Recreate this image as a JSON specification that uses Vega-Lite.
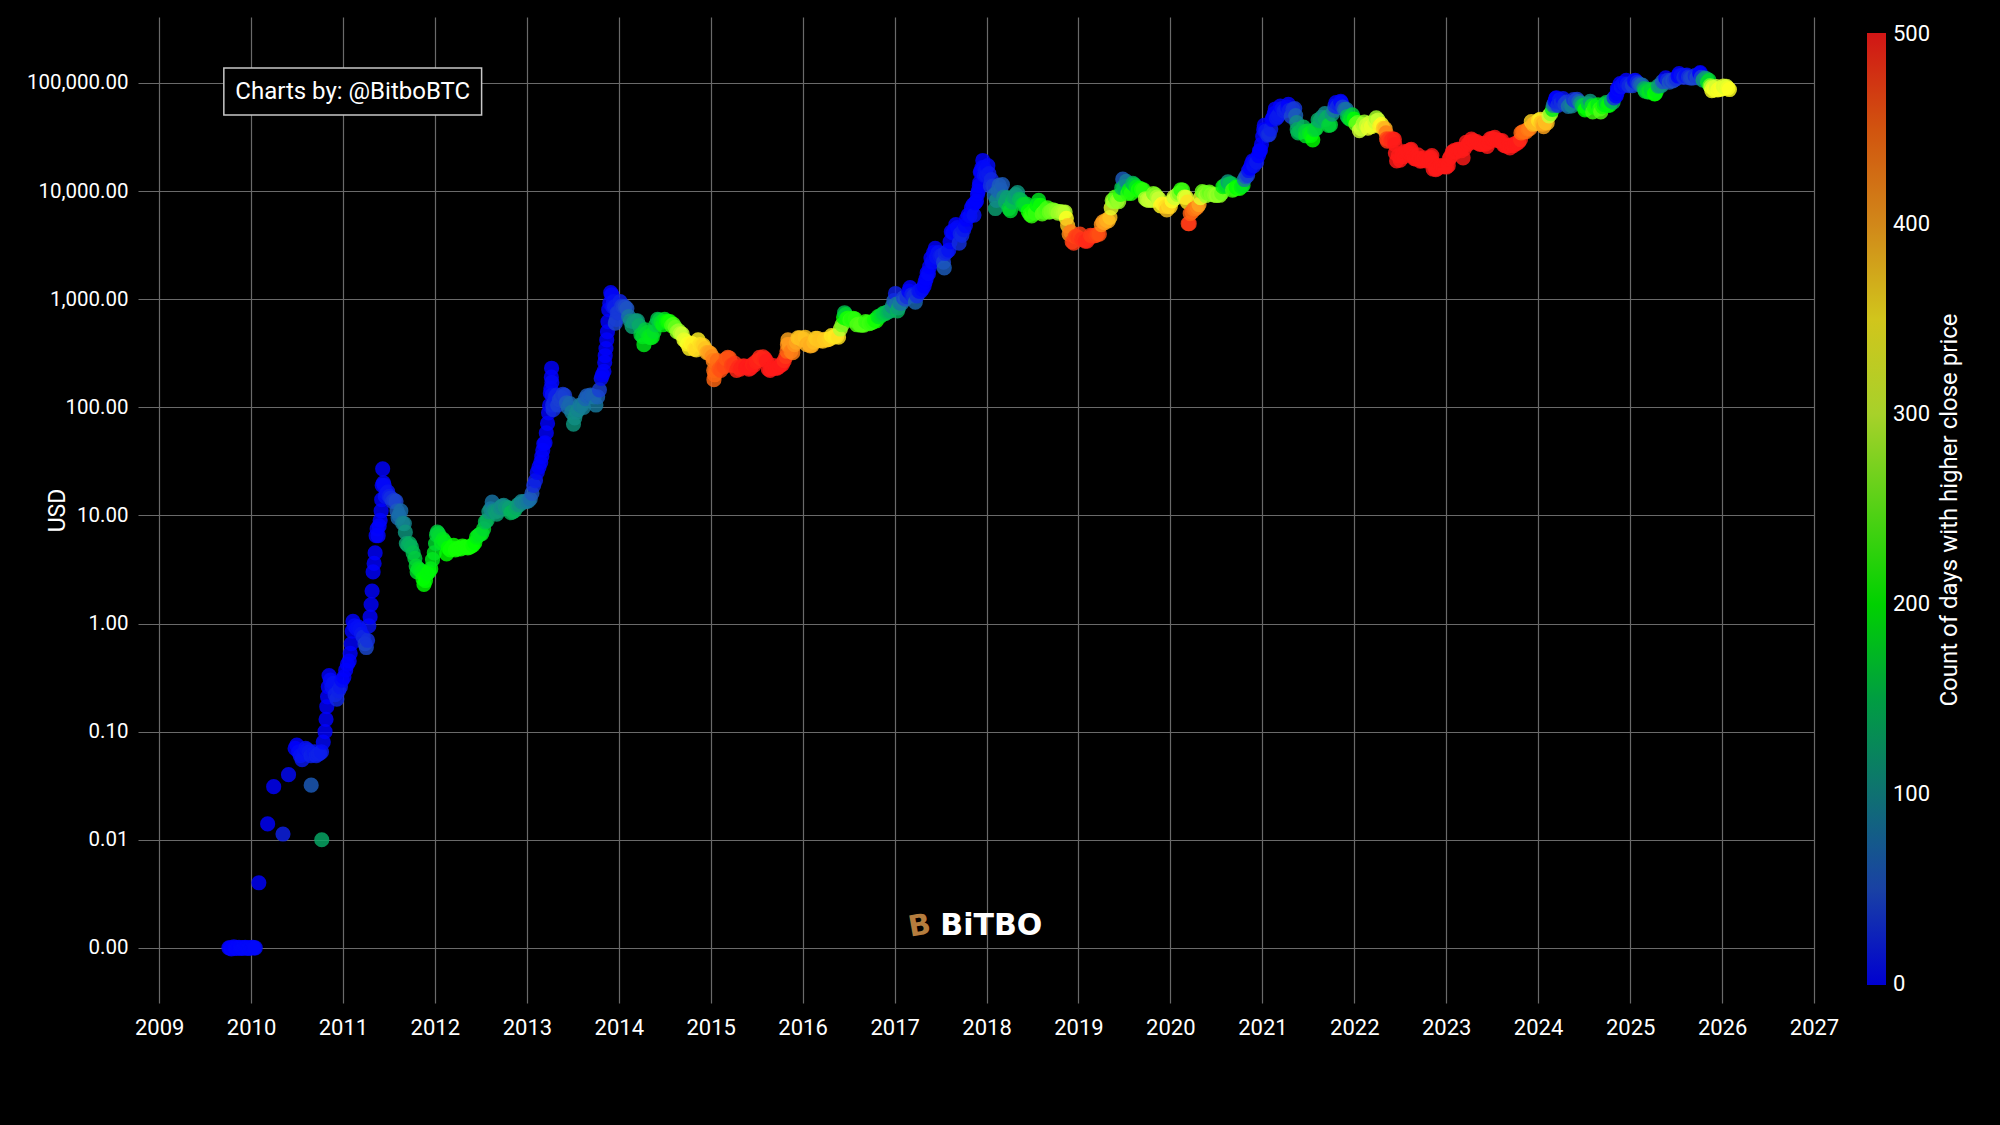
{
  "$schema": "https://vega.github.io/schema/vega-lite/v6.json",
  "width": 1676,
  "height": 986,
  "autosize": {"type": "none"},
  "padding": {"left": 138, "top": 17, "right": 186, "bottom": 122},
  "background": "#000000",
  "title": {"text": "Count of days with higher close price", "orient": "right", "frame": "group", "anchor": "middle", "angle": 270, "offset": -5, "fontSize": 24, "color": "#ffffff", "fontWeight": "normal", "font": "Roboto", "baseline": "middle"},
  "config": {
    "font": "Roboto",
    "view": {"stroke": null},
    "axis": {"gridColor": "#6a6a6a", "gridWidth": 1.2, "domain": false, "ticks": false, "labelColor": "#ffffff", "titleColor": "#ffffff"}
  },
  "datasets": {
    "btc": [
      {"d":"2009-10-05","p":0.001,"c":0},{"d":"2009-10-10","p":0.001,"c":0},{"d":"2009-10-15","p":0.00098,"c":2},{"d":"2009-10-20","p":0.001,"c":0},{"d":"2009-10-25","p":0.00102,"c":0},{"d":"2009-10-30","p":0.001,"c":2},{"d":"2009-11-04","p":0.00099,"c":3},{"d":"2009-11-09","p":0.001,"c":3},{"d":"2009-11-14","p":0.00101,"c":2},{"d":"2009-11-19","p":0.001,"c":3},{"d":"2009-11-24","p":0.00099,"c":4},{"d":"2009-11-29","p":0.001,"c":4},{"d":"2009-12-04","p":0.001,"c":4},{"d":"2009-12-09","p":0.00101,"c":3},{"d":"2009-12-14","p":0.001,"c":4},{"d":"2009-12-19","p":0.00099,"c":5},{"d":"2009-12-24","p":0.001,"c":5},{"d":"2009-12-29","p":0.001,"c":5},{"d":"2010-01-03","p":0.001,"c":5},{"d":"2010-01-08","p":0.00101,"c":4},{"d":"2010-01-13","p":0.001,"c":5},{"d":"2010-01-18","p":0.001,"c":5},
      {"d":"2010-02-01","p":0.004,"c":0},{"d":"2010-03-08","p":0.014,"c":0},{"d":"2010-04-01","p":0.031,"c":0},{"d":"2010-05-08","p":0.0113,"c":20},{"d":"2010-05-30","p":0.04,"c":5},
      {"d":"2010-06-25","p":0.07,"c":0},{"d":"2010-07-02","p":0.075,"c":0},{"d":"2010-07-09","p":0.065,"c":5},{"d":"2010-07-16","p":0.06,"c":10},{"d":"2010-07-23","p":0.055,"c":15},{"d":"2010-07-30","p":0.062,"c":12},{"d":"2010-08-06","p":0.07,"c":10},{"d":"2010-08-13","p":0.068,"c":12},{"d":"2010-08-20","p":0.065,"c":15},{"d":"2010-08-27","p":0.06,"c":20},{"d":"2010-08-28","p":0.032,"c":60},{"d":"2010-09-03","p":0.062,"c":18},{"d":"2010-09-10","p":0.065,"c":15},{"d":"2010-09-17","p":0.06,"c":20},{"d":"2010-09-24","p":0.062,"c":20},{"d":"2010-10-01","p":0.063,"c":20},{"d":"2010-10-08","p":0.065,"c":18},{"d":"2010-10-09","p":0.01,"c":130},{"d":"2010-10-15","p":0.08,"c":5},{"d":"2010-10-22","p":0.1,"c":0},{"d":"2010-10-26","p":0.13,"c":0},{"d":"2010-10-29","p":0.17,"c":0},{"d":"2010-11-01","p":0.21,"c":0},{"d":"2010-11-04","p":0.26,"c":0},{"d":"2010-11-07","p":0.33,"c":0},{"d":"2010-11-12","p":0.3,"c":5},{"d":"2010-11-18","p":0.26,"c":10},{"d":"2010-11-24","p":0.28,"c":10},{"d":"2010-12-01","p":0.22,"c":20},{"d":"2010-12-08","p":0.2,"c":25},{"d":"2010-12-15","p":0.24,"c":20},{"d":"2010-12-22","p":0.26,"c":15},{"d":"2010-12-29","p":0.3,"c":5},
      {"d":"2011-01-05","p":0.32,"c":0},{"d":"2011-01-12","p":0.37,"c":0},{"d":"2011-01-19","p":0.42,"c":0},{"d":"2011-01-26","p":0.45,"c":0},{"d":"2011-01-30","p":0.53,"c":0},{"d":"2011-02-03","p":0.65,"c":0},{"d":"2011-02-07","p":0.85,"c":0},{"d":"2011-02-10","p":1.05,"c":0},{"d":"2011-02-16","p":0.95,"c":5},{"d":"2011-02-23","p":0.9,"c":8},{"d":"2011-03-02","p":0.93,"c":8},{"d":"2011-03-09","p":0.88,"c":10},{"d":"2011-03-16","p":0.8,"c":15},{"d":"2011-03-23","p":0.75,"c":25},{"d":"2011-03-30","p":0.65,"c":40},{"d":"2011-04-04","p":0.6,"c":45},{"d":"2011-04-09","p":0.7,"c":30},{"d":"2011-04-14","p":0.95,"c":10},{"d":"2011-04-19","p":1.15,"c":0},{"d":"2011-04-23","p":1.5,"c":0},{"d":"2011-04-27","p":2.0,"c":0},{"d":"2011-05-01","p":3.0,"c":0},{"d":"2011-05-05","p":3.6,"c":0},{"d":"2011-05-09","p":4.5,"c":0},{"d":"2011-05-13","p":6.5,"c":0},{"d":"2011-05-17","p":7.5,"c":0},{"d":"2011-05-21","p":6.5,"c":2},{"d":"2011-05-25","p":8,"c":0},{"d":"2011-05-29","p":9,"c":0},{"d":"2011-06-02","p":11,"c":0},{"d":"2011-06-04","p":14,"c":0},{"d":"2011-06-06","p":19,"c":0},{"d":"2011-06-08","p":27,"c":0},{"d":"2011-06-11","p":20,"c":3},{"d":"2011-06-14","p":19,"c":5},{"d":"2011-06-18","p":15,"c":10},{"d":"2011-06-23","p":16,"c":12},{"d":"2011-06-28","p":16.5,"c":12},{"d":"2011-07-04","p":15,"c":20},{"d":"2011-07-10","p":14.5,"c":28},{"d":"2011-07-17","p":13.5,"c":35},{"d":"2011-07-24","p":13.8,"c":38},{"d":"2011-07-31","p":13.5,"c":45},{"d":"2011-08-04","p":11,"c":60},{"d":"2011-08-08","p":9.5,"c":70},{"d":"2011-08-12","p":10,"c":75},{"d":"2011-08-19","p":11,"c":75},{"d":"2011-08-26","p":8.5,"c":90},{"d":"2011-09-02","p":8.4,"c":95},{"d":"2011-09-06","p":7,"c":110},{"d":"2011-09-10","p":5.5,"c":120},{"d":"2011-09-16","p":5.3,"c":130},{"d":"2011-09-23","p":5.5,"c":135},{"d":"2011-09-30","p":5.1,"c":140},{"d":"2011-10-07","p":4.5,"c":150},{"d":"2011-10-14","p":4,"c":160},{"d":"2011-10-19","p":3.4,"c":168},{"d":"2011-10-23","p":3,"c":172},{"d":"2011-10-28","p":3.2,"c":175},{"d":"2011-11-04","p":3.1,"c":180},{"d":"2011-11-11","p":3,"c":185},{"d":"2011-11-15","p":2.6,"c":195},{"d":"2011-11-19","p":2.3,"c":200},{"d":"2011-11-25","p":2.5,"c":200},{"d":"2011-12-02","p":2.9,"c":195},{"d":"2011-12-09","p":3,"c":195},{"d":"2011-12-16","p":3.2,"c":195},{"d":"2011-12-23","p":3.9,"c":185},{"d":"2011-12-30","p":4.5,"c":180},
      {"d":"2012-01-04","p":5.5,"c":170},{"d":"2012-01-08","p":6.6,"c":165},{"d":"2012-01-11","p":7,"c":160},{"d":"2012-01-15","p":6.8,"c":165},{"d":"2012-01-20","p":6.4,"c":170},{"d":"2012-01-27","p":5.6,"c":180},{"d":"2012-02-03","p":6,"c":180},{"d":"2012-02-10","p":5.7,"c":185},{"d":"2012-02-17","p":4.4,"c":200},{"d":"2012-02-24","p":5,"c":200},{"d":"2012-03-02","p":4.8,"c":205},{"d":"2012-03-09","p":5,"c":205},{"d":"2012-03-16","p":5.3,"c":205},{"d":"2012-03-23","p":4.8,"c":210},{"d":"2012-03-30","p":4.9,"c":210},{"d":"2012-04-06","p":5,"c":210},{"d":"2012-04-13","p":4.9,"c":210},{"d":"2012-04-20","p":5.2,"c":210},{"d":"2012-04-27","p":5.1,"c":210},{"d":"2012-05-04","p":5.1,"c":210},{"d":"2012-05-11","p":5,"c":210},{"d":"2012-05-18","p":5.1,"c":210},{"d":"2012-05-25","p":5.2,"c":210},{"d":"2012-06-01","p":5.3,"c":205},{"d":"2012-06-08","p":5.6,"c":200},{"d":"2012-06-15","p":6.3,"c":190},{"d":"2012-06-22","p":6.5,"c":185},{"d":"2012-06-29","p":6.7,"c":180},{"d":"2012-07-06","p":6.8,"c":180},{"d":"2012-07-13","p":7.5,"c":170},{"d":"2012-07-20","p":8.7,"c":150},{"d":"2012-07-27","p":9,"c":140},{"d":"2012-08-03","p":10.8,"c":110},{"d":"2012-08-10","p":11.5,"c":100},{"d":"2012-08-16","p":13.3,"c":80},{"d":"2012-08-20","p":11,"c":100},{"d":"2012-08-27","p":10.8,"c":110},{"d":"2012-09-03","p":10.3,"c":120},{"d":"2012-09-10","p":11,"c":115},{"d":"2012-09-17","p":11.8,"c":105},{"d":"2012-09-24","p":12.2,"c":100},{"d":"2012-10-01","p":12.4,"c":100},{"d":"2012-10-08","p":11.8,"c":110},{"d":"2012-10-15","p":11.9,"c":110},{"d":"2012-10-22","p":11.6,"c":120},{"d":"2012-10-29","p":10.6,"c":140},{"d":"2012-11-05","p":10.8,"c":140},{"d":"2012-11-12","p":11,"c":140},{"d":"2012-11-19","p":11.8,"c":130},{"d":"2012-11-26","p":12.5,"c":115},{"d":"2012-12-03","p":12.6,"c":110},{"d":"2012-12-10","p":13.4,"c":95},{"d":"2012-12-17","p":13.3,"c":95},{"d":"2012-12-24","p":13.4,"c":95},{"d":"2012-12-31","p":13.5,"c":90},
      {"d":"2013-01-07","p":13.6,"c":85},{"d":"2013-01-14","p":14.2,"c":75},{"d":"2013-01-21","p":16,"c":55},{"d":"2013-01-28","p":19,"c":30},{"d":"2013-02-04","p":21,"c":20},{"d":"2013-02-11","p":25,"c":5},{"d":"2013-02-18","p":28,"c":0},{"d":"2013-02-25","p":31,"c":0},{"d":"2013-03-01","p":35,"c":0},{"d":"2013-03-05","p":40,"c":0},{"d":"2013-03-09","p":46,"c":0},{"d":"2013-03-14","p":47,"c":0},{"d":"2013-03-19","p":58,"c":0},{"d":"2013-03-24","p":71,"c":0},{"d":"2013-03-28","p":89,"c":0},{"d":"2013-04-01","p":104,"c":0},{"d":"2013-04-04","p":135,"c":0},{"d":"2013-04-06","p":150,"c":0},{"d":"2013-04-08","p":190,"c":0},{"d":"2013-04-09","p":230,"c":0},{"d":"2013-04-10","p":170,"c":5},{"d":"2013-04-11","p":130,"c":10},{"d":"2013-04-13","p":105,"c":25},{"d":"2013-04-15","p":95,"c":30},{"d":"2013-04-18","p":110,"c":25},{"d":"2013-04-23","p":125,"c":20},{"d":"2013-04-28","p":130,"c":20},{"d":"2013-05-03","p":105,"c":40},{"d":"2013-05-10","p":117,"c":40},{"d":"2013-05-17","p":123,"c":40},{"d":"2013-05-24","p":132,"c":35},{"d":"2013-05-31","p":129,"c":40},{"d":"2013-06-07","p":110,"c":60},{"d":"2013-06-14","p":100,"c":70},{"d":"2013-06-21","p":108,"c":70},{"d":"2013-06-28","p":90,"c":90},{"d":"2013-07-05","p":70,"c":110},{"d":"2013-07-10","p":80,"c":105},{"d":"2013-07-17","p":90,"c":100},{"d":"2013-07-24","p":95,"c":95},{"d":"2013-07-31","p":105,"c":85},{"d":"2013-08-07","p":105,"c":85},{"d":"2013-08-14","p":100,"c":90},{"d":"2013-08-21","p":120,"c":70},{"d":"2013-08-28","p":128,"c":60},{"d":"2013-09-04","p":125,"c":65},{"d":"2013-09-11","p":130,"c":60},{"d":"2013-09-18","p":127,"c":65},{"d":"2013-09-25","p":125,"c":65},{"d":"2013-10-02","p":105,"c":85},{"d":"2013-10-09","p":125,"c":65},{"d":"2013-10-16","p":145,"c":40},{"d":"2013-10-23","p":185,"c":10},{"d":"2013-10-28","p":200,"c":0},{"d":"2013-11-03","p":215,"c":0},{"d":"2013-11-06","p":260,"c":0},{"d":"2013-11-08","p":300,"c":0},{"d":"2013-11-11","p":350,"c":0},{"d":"2013-11-14","p":420,"c":0},{"d":"2013-11-17","p":500,"c":0},{"d":"2013-11-19","p":620,"c":0},{"d":"2013-11-22","p":800,"c":0},{"d":"2013-11-26","p":920,"c":0},{"d":"2013-11-30","p":1150,"c":0},{"d":"2013-12-04","p":1100,"c":3},{"d":"2013-12-08","p":850,"c":10},{"d":"2013-12-11","p":950,"c":10},{"d":"2013-12-15","p":850,"c":20},{"d":"2013-12-18","p":600,"c":45},{"d":"2013-12-22","p":650,"c":40},{"d":"2013-12-26","p":750,"c":35},{"d":"2013-12-31","p":750,"c":35},
      {"d":"2014-01-06","p":950,"c":20},{"d":"2014-01-12","p":860,"c":35},{"d":"2014-01-19","p":850,"c":40},{"d":"2014-01-26","p":850,"c":45},{"d":"2014-02-02","p":820,"c":55},{"d":"2014-02-09","p":690,"c":80},{"d":"2014-02-16","p":630,"c":100},{"d":"2014-02-23","p":560,"c":120},{"d":"2014-03-02","p":620,"c":110},{"d":"2014-03-09","p":630,"c":110},{"d":"2014-03-16","p":630,"c":115},{"d":"2014-03-23","p":570,"c":130},{"d":"2014-03-30","p":470,"c":160},{"d":"2014-04-06","p":450,"c":170},{"d":"2014-04-11","p":380,"c":185},{"d":"2014-04-16","p":520,"c":160},{"d":"2014-04-23","p":490,"c":170},{"d":"2014-04-30","p":450,"c":180},{"d":"2014-05-07","p":440,"c":185},{"d":"2014-05-14","p":445,"c":185},{"d":"2014-05-21","p":500,"c":175},{"d":"2014-05-28","p":580,"c":160},{"d":"2014-06-04","p":650,"c":150},{"d":"2014-06-11","p":640,"c":160},{"d":"2014-06-18","p":610,"c":175},{"d":"2014-06-25","p":580,"c":190},{"d":"2014-07-02","p":650,"c":180},{"d":"2014-07-09","p":625,"c":195},{"d":"2014-07-16","p":620,"c":205},{"d":"2014-07-23","p":620,"c":210},{"d":"2014-07-30","p":570,"c":230},{"d":"2014-08-06","p":585,"c":235},{"d":"2014-08-13","p":550,"c":250},{"d":"2014-08-20","p":500,"c":270},{"d":"2014-08-27","p":510,"c":275},{"d":"2014-09-03","p":480,"c":290},{"d":"2014-09-10","p":475,"c":300},{"d":"2014-09-17","p":420,"c":320},{"d":"2014-09-24","p":410,"c":325},{"d":"2014-10-01","p":385,"c":335},{"d":"2014-10-08","p":350,"c":350},{"d":"2014-10-15","p":390,"c":345},{"d":"2014-10-22","p":385,"c":350},{"d":"2014-10-29","p":345,"c":360},{"d":"2014-11-05","p":340,"c":365},{"d":"2014-11-12","p":420,"c":350},{"d":"2014-11-19","p":380,"c":360},{"d":"2014-11-26","p":370,"c":365},{"d":"2014-12-03","p":375,"c":370},{"d":"2014-12-10","p":350,"c":380},{"d":"2014-12-17","p":320,"c":395},{"d":"2014-12-24","p":320,"c":400},{"d":"2014-12-31","p":315,"c":405},
      {"d":"2015-01-07","p":295,"c":420},{"d":"2015-01-11","p":270,"c":430},{"d":"2015-01-13","p":220,"c":440},{"d":"2015-01-14","p":180,"c":450},{"d":"2015-01-17","p":200,"c":450},{"d":"2015-01-21","p":225,"c":450},{"d":"2015-01-27","p":270,"c":445},{"d":"2015-02-03","p":225,"c":460},{"d":"2015-02-10","p":220,"c":465},{"d":"2015-02-17","p":245,"c":465},{"d":"2015-02-24","p":238,"c":470},{"d":"2015-03-03","p":280,"c":460},{"d":"2015-03-10","p":290,"c":460},{"d":"2015-03-17","p":285,"c":465},{"d":"2015-03-24","p":245,"c":475},{"d":"2015-03-31","p":245,"c":480},{"d":"2015-04-07","p":255,"c":480},{"d":"2015-04-14","p":220,"c":490},{"d":"2015-04-21","p":235,"c":490},{"d":"2015-04-28","p":225,"c":495},{"d":"2015-05-05","p":238,"c":495},{"d":"2015-05-12","p":242,"c":495},{"d":"2015-05-19","p":234,"c":500},{"d":"2015-05-26","p":238,"c":500},{"d":"2015-06-02","p":225,"c":500},{"d":"2015-06-09","p":230,"c":500},{"d":"2015-06-16","p":250,"c":495},{"d":"2015-06-23","p":245,"c":500},{"d":"2015-06-30","p":265,"c":495},{"d":"2015-07-07","p":270,"c":495},{"d":"2015-07-14","p":290,"c":490},{"d":"2015-07-21","p":280,"c":490},{"d":"2015-07-28","p":293,"c":490},{"d":"2015-08-04","p":283,"c":495},{"d":"2015-08-11","p":268,"c":500},{"d":"2015-08-18","p":225,"c":500},{"d":"2015-08-25","p":220,"c":500},{"d":"2015-09-01","p":228,"c":500},{"d":"2015-09-08","p":243,"c":500},{"d":"2015-09-15","p":230,"c":500},{"d":"2015-09-22","p":230,"c":500},{"d":"2015-09-29","p":237,"c":500},{"d":"2015-10-06","p":247,"c":500},{"d":"2015-10-13","p":250,"c":500},{"d":"2015-10-20","p":270,"c":490},{"d":"2015-10-27","p":295,"c":480},{"d":"2015-10-31","p":330,"c":450},{"d":"2015-11-02","p":380,"c":420},{"d":"2015-11-04","p":420,"c":400},{"d":"2015-11-09","p":380,"c":410},{"d":"2015-11-16","p":330,"c":430},{"d":"2015-11-23","p":320,"c":430},{"d":"2015-11-30","p":380,"c":410},{"d":"2015-12-07","p":400,"c":400},{"d":"2015-12-14","p":440,"c":380},{"d":"2015-12-21","p":440,"c":380},{"d":"2015-12-28","p":425,"c":385},
      {"d":"2016-01-04","p":430,"c":385},{"d":"2016-01-11","p":445,"c":380},{"d":"2016-01-18","p":380,"c":395},{"d":"2016-01-25","p":390,"c":390},{"d":"2016-02-01","p":370,"c":395},{"d":"2016-02-08","p":375,"c":395},{"d":"2016-02-15","p":400,"c":385},{"d":"2016-02-22","p":435,"c":375},{"d":"2016-02-29","p":435,"c":375},{"d":"2016-03-07","p":415,"c":380},{"d":"2016-03-14","p":415,"c":380},{"d":"2016-03-21","p":410,"c":380},{"d":"2016-03-28","p":425,"c":375},{"d":"2016-04-04","p":420,"c":375},{"d":"2016-04-11","p":423,"c":375},{"d":"2016-04-18","p":430,"c":370},{"d":"2016-04-25","p":460,"c":355},{"d":"2016-05-02","p":445,"c":360},{"d":"2016-05-09","p":455,"c":355},{"d":"2016-05-16","p":455,"c":355},{"d":"2016-05-23","p":445,"c":360},{"d":"2016-05-30","p":530,"c":290},{"d":"2016-06-06","p":580,"c":260},{"d":"2016-06-12","p":680,"c":200},{"d":"2016-06-16","p":750,"c":150},{"d":"2016-06-20","p":720,"c":170},{"d":"2016-06-24","p":660,"c":210},{"d":"2016-06-30","p":670,"c":210},{"d":"2016-07-07","p":640,"c":225},{"d":"2016-07-14","p":660,"c":215},{"d":"2016-07-21","p":665,"c":215},{"d":"2016-07-28","p":655,"c":220},{"d":"2016-08-04","p":580,"c":240},{"d":"2016-08-11","p":590,"c":235},{"d":"2016-08-18","p":575,"c":240},{"d":"2016-08-25","p":578,"c":240},{"d":"2016-09-01","p":575,"c":240},{"d":"2016-09-08","p":620,"c":225},{"d":"2016-09-15","p":610,"c":225},{"d":"2016-09-22","p":595,"c":230},{"d":"2016-09-29","p":605,"c":225},{"d":"2016-10-06","p":615,"c":220},{"d":"2016-10-13","p":640,"c":210},{"d":"2016-10-20","p":630,"c":210},{"d":"2016-10-27","p":690,"c":185},{"d":"2016-11-03","p":690,"c":180},{"d":"2016-11-10","p":715,"c":170},{"d":"2016-11-17","p":740,"c":160},{"d":"2016-11-24","p":735,"c":160},{"d":"2016-12-01","p":755,"c":150},{"d":"2016-12-08","p":770,"c":140},{"d":"2016-12-15","p":780,"c":130},{"d":"2016-12-22","p":860,"c":100},{"d":"2016-12-29","p":970,"c":60},
      {"d":"2017-01-04","p":1130,"c":20},{"d":"2017-01-08","p":900,"c":80},{"d":"2017-01-12","p":780,"c":140},{"d":"2017-01-16","p":830,"c":120},{"d":"2017-01-22","p":920,"c":85},{"d":"2017-01-29","p":920,"c":85},{"d":"2017-02-05","p":1030,"c":40},{"d":"2017-02-12","p":1000,"c":50},{"d":"2017-02-19","p":1055,"c":30},{"d":"2017-02-26","p":1190,"c":0},{"d":"2017-03-03","p":1280,"c":0},{"d":"2017-03-10","p":1100,"c":20},{"d":"2017-03-17","p":1070,"c":30},{"d":"2017-03-24","p":940,"c":70},{"d":"2017-03-31","p":1075,"c":30},{"d":"2017-04-07","p":1190,"c":10},{"d":"2017-04-14","p":1180,"c":10},{"d":"2017-04-21","p":1240,"c":5},{"d":"2017-04-28","p":1330,"c":0},{"d":"2017-05-02","p":1450,"c":0},{"d":"2017-05-06","p":1550,"c":0},{"d":"2017-05-10","p":1750,"c":0},{"d":"2017-05-15","p":1720,"c":3},{"d":"2017-05-20","p":2000,"c":0},{"d":"2017-05-25","p":2400,"c":0},{"d":"2017-05-30","p":2200,"c":5},{"d":"2017-06-05","p":2700,"c":0},{"d":"2017-06-11","p":2950,"c":0},{"d":"2017-06-16","p":2450,"c":10},{"d":"2017-06-23","p":2700,"c":10},{"d":"2017-06-30","p":2500,"c":15},{"d":"2017-07-07","p":2550,"c":20},{"d":"2017-07-14","p":2200,"c":40},{"d":"2017-07-17","p":1950,"c":60},{"d":"2017-07-21","p":2650,"c":25},{"d":"2017-07-28","p":2750,"c":20},{"d":"2017-08-04","p":2850,"c":10},{"d":"2017-08-09","p":3400,"c":0},{"d":"2017-08-14","p":4200,"c":0},{"d":"2017-08-20","p":4100,"c":5},{"d":"2017-08-26","p":4350,"c":0},{"d":"2017-09-01","p":4900,"c":0},{"d":"2017-09-07","p":4600,"c":5},{"d":"2017-09-14","p":3300,"c":30},{"d":"2017-09-18","p":4000,"c":20},{"d":"2017-09-25","p":3900,"c":25},{"d":"2017-10-02","p":4400,"c":15},{"d":"2017-10-09","p":4800,"c":5},{"d":"2017-10-13","p":5500,"c":0},{"d":"2017-10-20","p":6000,"c":0},{"d":"2017-10-27","p":5900,"c":5},{"d":"2017-11-02","p":7000,"c":0},{"d":"2017-11-08","p":7450,"c":0},{"d":"2017-11-12","p":6000,"c":10},{"d":"2017-11-17","p":7800,"c":0},{"d":"2017-11-22","p":8100,"c":0},{"d":"2017-11-26","p":9300,"c":0},{"d":"2017-11-29","p":10000,"c":0},{"d":"2017-12-03","p":11200,"c":0},{"d":"2017-12-05","p":12000,"c":0},{"d":"2017-12-07","p":15000,"c":0},{"d":"2017-12-10","p":15200,"c":0},{"d":"2017-12-14","p":16500,"c":0},{"d":"2017-12-17","p":19200,"c":0},{"d":"2017-12-20","p":16500,"c":5},{"d":"2017-12-23","p":14000,"c":10},{"d":"2017-12-27","p":15500,"c":10},{"d":"2017-12-31","p":14000,"c":15},
      {"d":"2018-01-06","p":17200,"c":5},{"d":"2018-01-10","p":14500,"c":15},{"d":"2018-01-16","p":11200,"c":30},{"d":"2018-01-20","p":12800,"c":25},{"d":"2018-01-26","p":11100,"c":35},{"d":"2018-02-01","p":9200,"c":70},{"d":"2018-02-05","p":6900,"c":120},{"d":"2018-02-09","p":8200,"c":100},{"d":"2018-02-15","p":10100,"c":70},{"d":"2018-02-20","p":11300,"c":60},{"d":"2018-02-26","p":10300,"c":70},{"d":"2018-03-05","p":11500,"c":60},{"d":"2018-03-10","p":8800,"c":100},{"d":"2018-03-17","p":7900,"c":130},{"d":"2018-03-24","p":8700,"c":120},{"d":"2018-03-31","p":6900,"c":160},{"d":"2018-04-06","p":6600,"c":170},{"d":"2018-04-13","p":7900,"c":145},{"d":"2018-04-20","p":8800,"c":125},{"d":"2018-04-27","p":9300,"c":120},{"d":"2018-05-04","p":9700,"c":110},{"d":"2018-05-11","p":8400,"c":140},{"d":"2018-05-18","p":8200,"c":145},{"d":"2018-05-25","p":7500,"c":165},{"d":"2018-06-01","p":7500,"c":170},{"d":"2018-06-08","p":7600,"c":170},{"d":"2018-06-15","p":6500,"c":200},{"d":"2018-06-22","p":6100,"c":215},{"d":"2018-06-29","p":5900,"c":225},{"d":"2018-07-06","p":6600,"c":210},{"d":"2018-07-13","p":6250,"c":225},{"d":"2018-07-20","p":7400,"c":195},{"d":"2018-07-27","p":8200,"c":180},{"d":"2018-08-03","p":7400,"c":205},{"d":"2018-08-10","p":6150,"c":240},{"d":"2018-08-17","p":6400,"c":240},{"d":"2018-08-24","p":6700,"c":235},{"d":"2018-08-31","p":7000,"c":230},{"d":"2018-09-07","p":6400,"c":250},{"d":"2018-09-14","p":6500,"c":255},{"d":"2018-09-21","p":6700,"c":255},{"d":"2018-09-28","p":6600,"c":260},{"d":"2018-10-05","p":6550,"c":265},{"d":"2018-10-12","p":6250,"c":275},{"d":"2018-10-19","p":6450,"c":275},{"d":"2018-10-26","p":6400,"c":280},{"d":"2018-11-02","p":6350,"c":285},{"d":"2018-11-09","p":6400,"c":290},{"d":"2018-11-14","p":5600,"c":340},{"d":"2018-11-19","p":4800,"c":380},{"d":"2018-11-25","p":4000,"c":420},{"d":"2018-12-01","p":4200,"c":430},{"d":"2018-12-07","p":3400,"c":470},{"d":"2018-12-13","p":3300,"c":480},{"d":"2018-12-19","p":3800,"c":470},{"d":"2018-12-25","p":3800,"c":475},{"d":"2018-12-31","p":3700,"c":480},
      {"d":"2019-01-07","p":4000,"c":475},{"d":"2019-01-14","p":3600,"c":485},{"d":"2019-01-21","p":3550,"c":485},{"d":"2019-01-28","p":3450,"c":490},{"d":"2019-02-04","p":3450,"c":490},{"d":"2019-02-11","p":3650,"c":490},{"d":"2019-02-18","p":3900,"c":480},{"d":"2019-02-25","p":3850,"c":480},{"d":"2019-03-04","p":3850,"c":480},{"d":"2019-03-11","p":3900,"c":475},{"d":"2019-03-18","p":4000,"c":470},{"d":"2019-03-25","p":4000,"c":465},{"d":"2019-04-02","p":4900,"c":420},{"d":"2019-04-08","p":5200,"c":405},{"d":"2019-04-15","p":5100,"c":405},{"d":"2019-04-22","p":5400,"c":395},{"d":"2019-04-29","p":5300,"c":395},{"d":"2019-05-06","p":5700,"c":380},{"d":"2019-05-11","p":7000,"c":320},{"d":"2019-05-15","p":8200,"c":270},{"d":"2019-05-20","p":8000,"c":280},{"d":"2019-05-27","p":8800,"c":240},{"d":"2019-06-03","p":8100,"c":270},{"d":"2019-06-10","p":8000,"c":275},{"d":"2019-06-17","p":9300,"c":220},{"d":"2019-06-22","p":10700,"c":150},{"d":"2019-06-26","p":12900,"c":60},{"d":"2019-06-30","p":10800,"c":150},{"d":"2019-07-05","p":11000,"c":140},{"d":"2019-07-10","p":12300,"c":90},{"d":"2019-07-16","p":9500,"c":220},{"d":"2019-07-22","p":10300,"c":190},{"d":"2019-07-29","p":9500,"c":215},{"d":"2019-08-05","p":11800,"c":140},{"d":"2019-08-12","p":11400,"c":160},{"d":"2019-08-19","p":10900,"c":185},{"d":"2019-08-26","p":10200,"c":210},{"d":"2019-09-02","p":10600,"c":200},{"d":"2019-09-09","p":10300,"c":215},{"d":"2019-09-16","p":10250,"c":220},{"d":"2019-09-24","p":8500,"c":280},{"d":"2019-09-30","p":8300,"c":290},{"d":"2019-10-07","p":8200,"c":295},{"d":"2019-10-14","p":8350,"c":295},{"d":"2019-10-22","p":8200,"c":300},{"d":"2019-10-26","p":9500,"c":260},{"d":"2019-11-02","p":9300,"c":265},{"d":"2019-11-09","p":8800,"c":285},{"d":"2019-11-16","p":8500,"c":300},{"d":"2019-11-23","p":7300,"c":345},{"d":"2019-11-30","p":7600,"c":345},{"d":"2019-12-07","p":7500,"c":350},{"d":"2019-12-14","p":7200,"c":360},{"d":"2019-12-18","p":6700,"c":380},{"d":"2019-12-25","p":7250,"c":365},
      {"d":"2020-01-01","p":7200,"c":370},{"d":"2020-01-08","p":8100,"c":335},{"d":"2020-01-15","p":8800,"c":300},{"d":"2020-01-22","p":8650,"c":310},{"d":"2020-01-29","p":9300,"c":280},{"d":"2020-02-05","p":9600,"c":260},{"d":"2020-02-12","p":10300,"c":220},{"d":"2020-02-19","p":10200,"c":230},{"d":"2020-02-26","p":8800,"c":310},{"d":"2020-03-04","p":8750,"c":320},{"d":"2020-03-09","p":7900,"c":360},{"d":"2020-03-12","p":5000,"c":470},{"d":"2020-03-16","p":5000,"c":480},{"d":"2020-03-20","p":6200,"c":455},{"d":"2020-03-27","p":6400,"c":450},{"d":"2020-04-03","p":6800,"c":440},{"d":"2020-04-10","p":6900,"c":435},{"d":"2020-04-17","p":7100,"c":425},{"d":"2020-04-24","p":7500,"c":400},{"d":"2020-04-30","p":8700,"c":320},{"d":"2020-05-07","p":9900,"c":250},{"d":"2020-05-14","p":9700,"c":260},{"d":"2020-05-21","p":9100,"c":280},{"d":"2020-05-28","p":9600,"c":260},{"d":"2020-06-04","p":9800,"c":250},{"d":"2020-06-11","p":9300,"c":265},{"d":"2020-06-18","p":9400,"c":260},{"d":"2020-06-25","p":9200,"c":270},{"d":"2020-07-02","p":9100,"c":275},{"d":"2020-07-09","p":9250,"c":265},{"d":"2020-07-16","p":9150,"c":270},{"d":"2020-07-23","p":9600,"c":250},{"d":"2020-07-28","p":11000,"c":190},{"d":"2020-08-04","p":11200,"c":180},{"d":"2020-08-11","p":11400,"c":170},{"d":"2020-08-17","p":12200,"c":110},{"d":"2020-08-24","p":11700,"c":150},{"d":"2020-08-31","p":11700,"c":150},{"d":"2020-09-04","p":10200,"c":230},{"d":"2020-09-11","p":10400,"c":220},{"d":"2020-09-18","p":10900,"c":200},{"d":"2020-09-25","p":10700,"c":205},{"d":"2020-10-02","p":10600,"c":210},{"d":"2020-10-09","p":11000,"c":190},{"d":"2020-10-16","p":11300,"c":180},{"d":"2020-10-21","p":12800,"c":90},{"d":"2020-10-27","p":13600,"c":50},{"d":"2020-11-03","p":14000,"c":35},{"d":"2020-11-07","p":15500,"c":10},{"d":"2020-11-13","p":16300,"c":0},{"d":"2020-11-18","p":17800,"c":0},{"d":"2020-11-24","p":19100,"c":0},{"d":"2020-11-27","p":17100,"c":10},{"d":"2020-12-02","p":19000,"c":5},{"d":"2020-12-09","p":18500,"c":15},{"d":"2020-12-16","p":21300,"c":0},{"d":"2020-12-20","p":23500,"c":0},{"d":"2020-12-24","p":23700,"c":0},{"d":"2020-12-28","p":27000,"c":0},
      {"d":"2021-01-02","p":32000,"c":0},{"d":"2021-01-06","p":36800,"c":0},{"d":"2021-01-08","p":40500,"c":0},{"d":"2021-01-11","p":35500,"c":10},{"d":"2021-01-16","p":36000,"c":15},{"d":"2021-01-22","p":33000,"c":25},{"d":"2021-01-28","p":33500,"c":30},{"d":"2021-02-03","p":37500,"c":20},{"d":"2021-02-08","p":46000,"c":0},{"d":"2021-02-12","p":47500,"c":0},{"d":"2021-02-17","p":52000,"c":0},{"d":"2021-02-21","p":57500,"c":0},{"d":"2021-02-25","p":47000,"c":15},{"d":"2021-03-02","p":48500,"c":15},{"d":"2021-03-07","p":51000,"c":15},{"d":"2021-03-13","p":61000,"c":0},{"d":"2021-03-20","p":58000,"c":10},{"d":"2021-03-27","p":55000,"c":20},{"d":"2021-04-03","p":57000,"c":20},{"d":"2021-04-10","p":60000,"c":10},{"d":"2021-04-14","p":63500,"c":0},{"d":"2021-04-18","p":56000,"c":20},{"d":"2021-04-25","p":49000,"c":45},{"d":"2021-05-02","p":57000,"c":35},{"d":"2021-05-09","p":58000,"c":35},{"d":"2021-05-13","p":50000,"c":65},{"d":"2021-05-17","p":43000,"c":100},{"d":"2021-05-19","p":37000,"c":130},{"d":"2021-05-23","p":34500,"c":145},{"d":"2021-05-30","p":35500,"c":145},{"d":"2021-06-06","p":35500,"c":150},{"d":"2021-06-13","p":39000,"c":140},{"d":"2021-06-20","p":35500,"c":160},{"d":"2021-06-22","p":32500,"c":175},{"d":"2021-06-29","p":36000,"c":165},{"d":"2021-07-06","p":34000,"c":180},{"d":"2021-07-13","p":32800,"c":190},{"d":"2021-07-20","p":29800,"c":200},{"d":"2021-07-27","p":37000,"c":170},{"d":"2021-08-03","p":38000,"c":165},{"d":"2021-08-10","p":45500,"c":130},{"d":"2021-08-17","p":44700,"c":135},{"d":"2021-08-24","p":48000,"c":120},{"d":"2021-08-31","p":47100,"c":125},{"d":"2021-09-06","p":52000,"c":100},{"d":"2021-09-08","p":46000,"c":135},{"d":"2021-09-15","p":48000,"c":130},{"d":"2021-09-21","p":40500,"c":165},{"d":"2021-09-28","p":41000,"c":165},{"d":"2021-10-05","p":51500,"c":110},{"d":"2021-10-12","p":56000,"c":80},{"d":"2021-10-16","p":61500,"c":30},{"d":"2021-10-20","p":66000,"c":0},{"d":"2021-10-26","p":60500,"c":30},{"d":"2021-11-02","p":63000,"c":20},{"d":"2021-11-08","p":67500,"c":0},{"d":"2021-11-10","p":66000,"c":5},{"d":"2021-11-16","p":60000,"c":40},{"d":"2021-11-23","p":57000,"c":70},{"d":"2021-11-30","p":57000,"c":80},{"d":"2021-12-04","p":49000,"c":140},{"d":"2021-12-10","p":47000,"c":160},{"d":"2021-12-17","p":46000,"c":180},{"d":"2021-12-24","p":50800,"c":165},{"d":"2021-12-31","p":46300,"c":200},
      {"d":"2022-01-07","p":41600,"c":250},{"d":"2022-01-14","p":43000,"c":245},{"d":"2022-01-21","p":36300,"c":300},{"d":"2022-01-28","p":37700,"c":300},{"d":"2022-02-04","p":41500,"c":285},{"d":"2022-02-10","p":43500,"c":275},{"d":"2022-02-17","p":40500,"c":300},{"d":"2022-02-24","p":38300,"c":320},{"d":"2022-03-03","p":42500,"c":305},{"d":"2022-03-10","p":39500,"c":325},{"d":"2022-03-17","p":41000,"c":320},{"d":"2022-03-24","p":44000,"c":300},{"d":"2022-03-29","p":47500,"c":280},{"d":"2022-04-05","p":45500,"c":300},{"d":"2022-04-12","p":40000,"c":350},{"d":"2022-04-19","p":41500,"c":345},{"d":"2022-04-26","p":38000,"c":380},{"d":"2022-05-03","p":37800,"c":390},{"d":"2022-05-07","p":34500,"c":430},{"d":"2022-05-09","p":30500,"c":470},{"d":"2022-05-12","p":29000,"c":480},{"d":"2022-05-19","p":30300,"c":480},{"d":"2022-05-26","p":29200,"c":490},{"d":"2022-06-02","p":30400,"c":490},{"d":"2022-06-09","p":30100,"c":495},{"d":"2022-06-11","p":27000,"c":500},{"d":"2022-06-13","p":22500,"c":500},{"d":"2022-06-18","p":19000,"c":500},{"d":"2022-06-25","p":21300,"c":500},{"d":"2022-07-02","p":19300,"c":500},{"d":"2022-07-09","p":21600,"c":500},{"d":"2022-07-16","p":20800,"c":500},{"d":"2022-07-20","p":23200,"c":500},{"d":"2022-07-27","p":22900,"c":500},{"d":"2022-08-03","p":22800,"c":500},{"d":"2022-08-10","p":23900,"c":500},{"d":"2022-08-15","p":24300,"c":500},{"d":"2022-08-20","p":21100,"c":500},{"d":"2022-08-27","p":20000,"c":500},{"d":"2022-09-03","p":19800,"c":500},{"d":"2022-09-10","p":21600,"c":500},{"d":"2022-09-13","p":20200,"c":500},{"d":"2022-09-20","p":18900,"c":500},{"d":"2022-09-27","p":19100,"c":500},{"d":"2022-10-04","p":20300,"c":500},{"d":"2022-10-11","p":19000,"c":500},{"d":"2022-10-18","p":19300,"c":500},{"d":"2022-10-25","p":20100,"c":500},{"d":"2022-11-01","p":20500,"c":500},{"d":"2022-11-05","p":21300,"c":500},{"d":"2022-11-08","p":18500,"c":500},{"d":"2022-11-10","p":16000,"c":500},{"d":"2022-11-16","p":16600,"c":500},{"d":"2022-11-21","p":15800,"c":500},{"d":"2022-11-28","p":16200,"c":500},{"d":"2022-12-05","p":17000,"c":500},{"d":"2022-12-12","p":17200,"c":500},{"d":"2022-12-19","p":16800,"c":500},{"d":"2022-12-26","p":16800,"c":500},
      {"d":"2023-01-02","p":16700,"c":500},{"d":"2023-01-09","p":17200,"c":500},{"d":"2023-01-13","p":19900,"c":500},{"d":"2023-01-18","p":20800,"c":500},{"d":"2023-01-25","p":22900,"c":500},{"d":"2023-02-01","p":23700,"c":500},{"d":"2023-02-08","p":22900,"c":500},{"d":"2023-02-15","p":24300,"c":500},{"d":"2023-02-22","p":24200,"c":500},{"d":"2023-03-01","p":23600,"c":500},{"d":"2023-03-09","p":20300,"c":500},{"d":"2023-03-14","p":24600,"c":500},{"d":"2023-03-21","p":28200,"c":500},{"d":"2023-03-28","p":27100,"c":500},{"d":"2023-04-04","p":28200,"c":500},{"d":"2023-04-11","p":30200,"c":500},{"d":"2023-04-18","p":29400,"c":500},{"d":"2023-04-25","p":28300,"c":500},{"d":"2023-05-02","p":28700,"c":500},{"d":"2023-05-09","p":27600,"c":500},{"d":"2023-05-16","p":27000,"c":500},{"d":"2023-05-23","p":27200,"c":500},{"d":"2023-05-30","p":27700,"c":500},{"d":"2023-06-06","p":27200,"c":500},{"d":"2023-06-13","p":25900,"c":500},{"d":"2023-06-20","p":28300,"c":500},{"d":"2023-06-24","p":30500,"c":500},{"d":"2023-07-01","p":30600,"c":500},{"d":"2023-07-08","p":30300,"c":500},{"d":"2023-07-13","p":31400,"c":500},{"d":"2023-07-20","p":29800,"c":500},{"d":"2023-07-27","p":29300,"c":500},{"d":"2023-08-03","p":29200,"c":500},{"d":"2023-08-10","p":29400,"c":500},{"d":"2023-08-17","p":26600,"c":500},{"d":"2023-08-24","p":26200,"c":500},{"d":"2023-08-31","p":26000,"c":500},{"d":"2023-09-07","p":26300,"c":500},{"d":"2023-09-11","p":25100,"c":500},{"d":"2023-09-18","p":26800,"c":500},{"d":"2023-09-25","p":26300,"c":500},{"d":"2023-10-02","p":27500,"c":500},{"d":"2023-10-09","p":27600,"c":500},{"d":"2023-10-16","p":28500,"c":500},{"d":"2023-10-23","p":30000,"c":490},{"d":"2023-10-25","p":34500,"c":450},{"d":"2023-11-01","p":35400,"c":445},{"d":"2023-11-08","p":35600,"c":445},{"d":"2023-11-15","p":35500,"c":445},{"d":"2023-11-22","p":37400,"c":435},{"d":"2023-11-29","p":37800,"c":430},{"d":"2023-12-05","p":44000,"c":370},{"d":"2023-12-12","p":41500,"c":390},{"d":"2023-12-19","p":42300,"c":385},{"d":"2023-12-26","p":42500,"c":385},
      {"d":"2024-01-02","p":45000,"c":360},{"d":"2024-01-09","p":46100,"c":350},{"d":"2024-01-12","p":42900,"c":380},{"d":"2024-01-19","p":41600,"c":390},{"d":"2024-01-23","p":39500,"c":400},{"d":"2024-01-30","p":43300,"c":380},{"d":"2024-02-06","p":42700,"c":385},{"d":"2024-02-13","p":49700,"c":300},{"d":"2024-02-20","p":52000,"c":270},{"d":"2024-02-27","p":57000,"c":180},{"d":"2024-03-01","p":62000,"c":90},{"d":"2024-03-05","p":64000,"c":60},{"d":"2024-03-08","p":68000,"c":5},{"d":"2024-03-11","p":72000,"c":0},{"d":"2024-03-14","p":73000,"c":0},{"d":"2024-03-19","p":62000,"c":30},{"d":"2024-03-26","p":70000,"c":15},{"d":"2024-04-02","p":66000,"c":30},{"d":"2024-04-09","p":71600,"c":10},{"d":"2024-04-16","p":63800,"c":40},{"d":"2024-04-23","p":66500,"c":40},{"d":"2024-04-30","p":60600,"c":80},{"d":"2024-05-07","p":63100,"c":75},{"d":"2024-05-14","p":61500,"c":95},{"d":"2024-05-21","p":70100,"c":30},{"d":"2024-05-28","p":68300,"c":45},{"d":"2024-06-04","p":70500,"c":40},{"d":"2024-06-11","p":67300,"c":70},{"d":"2024-06-18","p":65000,"c":110},{"d":"2024-06-25","p":61700,"c":150},{"d":"2024-07-02","p":62000,"c":160},{"d":"2024-07-05","p":56500,"c":200},{"d":"2024-07-12","p":57900,"c":200},{"d":"2024-07-19","p":64000,"c":150},{"d":"2024-07-26","p":67800,"c":110},{"d":"2024-08-02","p":61500,"c":180},{"d":"2024-08-05","p":54000,"c":230},{"d":"2024-08-12","p":59400,"c":210},{"d":"2024-08-19","p":59400,"c":210},{"d":"2024-08-26","p":62900,"c":185},{"d":"2024-09-02","p":57500,"c":220},{"d":"2024-09-06","p":54000,"c":240},{"d":"2024-09-13","p":60500,"c":210},{"d":"2024-09-20","p":63000,"c":190},{"d":"2024-09-27","p":65800,"c":160},{"d":"2024-10-04","p":62100,"c":195},{"d":"2024-10-11","p":62500,"c":195},{"d":"2024-10-18","p":68400,"c":120},{"d":"2024-10-25","p":66600,"c":140},{"d":"2024-10-29","p":72700,"c":30},{"d":"2024-11-06","p":75800,"c":0},{"d":"2024-11-09","p":80000,"c":0},{"d":"2024-11-11","p":88700,"c":0},{"d":"2024-11-14","p":87200,"c":3},{"d":"2024-11-18","p":90000,"c":0},{"d":"2024-11-22","p":98900,"c":0},{"d":"2024-11-26","p":92000,"c":10},{"d":"2024-12-01","p":97200,"c":5},{"d":"2024-12-05","p":98000,"c":5},{"d":"2024-12-10","p":96700,"c":10},{"d":"2024-12-16","p":106000,"c":0},{"d":"2024-12-20","p":97700,"c":15},{"d":"2024-12-27","p":94300,"c":25},
      {"d":"2025-01-03","p":98100,"c":25},{"d":"2025-01-10","p":94600,"c":40},{"d":"2025-01-17","p":104500,"c":10},{"d":"2025-01-21","p":106000,"c":5},{"d":"2025-01-28","p":101300,"c":25},{"d":"2025-02-04","p":98000,"c":45},{"d":"2025-02-11","p":95800,"c":65},{"d":"2025-02-18","p":95500,"c":75},{"d":"2025-02-25","p":88700,"c":130},{"d":"2025-03-01","p":84300,"c":160},{"d":"2025-03-07","p":86700,"c":150},{"d":"2025-03-11","p":82800,"c":170},{"d":"2025-03-18","p":82700,"c":180},{"d":"2025-03-25","p":87500,"c":160},{"d":"2025-04-01","p":85200,"c":170},{"d":"2025-04-07","p":79200,"c":200},{"d":"2025-04-10","p":79600,"c":200},{"d":"2025-04-15","p":83700,"c":190},{"d":"2025-04-22","p":93400,"c":120},{"d":"2025-04-29","p":94300,"c":115},{"d":"2025-05-06","p":94800,"c":110},{"d":"2025-05-09","p":103000,"c":60},{"d":"2025-05-16","p":103500,"c":55},{"d":"2025-05-22","p":111700,"c":0},{"d":"2025-05-29","p":105600,"c":30},{"d":"2025-06-05","p":101600,"c":60},{"d":"2025-06-12","p":105700,"c":40},{"d":"2025-06-19","p":104600,"c":50},{"d":"2025-06-26","p":107300,"c":40},{"d":"2025-07-03","p":109600,"c":30},{"d":"2025-07-10","p":116000,"c":0},{"d":"2025-07-14","p":122000,"c":0},{"d":"2025-07-21","p":117400,"c":10},{"d":"2025-07-28","p":118000,"c":10},{"d":"2025-08-02","p":112600,"c":30},{"d":"2025-08-09","p":116700,"c":15},{"d":"2025-08-14","p":118300,"c":10},{"d":"2025-08-20","p":113400,"c":30},{"d":"2025-08-27","p":111300,"c":40},{"d":"2025-09-02","p":111200,"c":45},{"d":"2025-09-09","p":111500,"c":45},{"d":"2025-09-16","p":116800,"c":25},{"d":"2025-09-23","p":112000,"c":45},{"d":"2025-09-30","p":114000,"c":40},{"d":"2025-10-04","p":122300,"c":5},{"d":"2025-10-06","p":124700,"c":0},{"d":"2025-10-10","p":113000,"c":40},{"d":"2025-10-17","p":106500,"c":120},{"d":"2025-10-24","p":111000,"c":100},{"d":"2025-10-31","p":109500,"c":120},{"d":"2025-11-04","p":101500,"c":180},{"d":"2025-11-10","p":106000,"c":170},{"d":"2025-11-14","p":94500,"c":250},{"d":"2025-11-18","p":92000,"c":290},{"d":"2025-11-21","p":85000,"c":335},{"d":"2025-11-26","p":90400,"c":315},{"d":"2025-12-01","p":86300,"c":335},{"d":"2025-12-05","p":89400,"c":325},{"d":"2025-12-10","p":92500,"c":305},{"d":"2025-12-15","p":86400,"c":335},{"d":"2025-12-20","p":88000,"c":330},{"d":"2025-12-26","p":87500,"c":335},
      {"d":"2026-01-01","p":88500,"c":335},{"d":"2026-01-06","p":93500,"c":310},{"d":"2026-01-12","p":91000,"c":320},{"d":"2026-01-18","p":93000,"c":315},{"d":"2026-01-24","p":89500,"c":330},{"d":"2026-01-30","p":87000,"c":340}
    ]
  },
  "layer": [
    {
      "data": {"name": "btc"},
      "mark": {"type": "circle", "size": 230, "opacity": 0.82},
      "encoding": {
        "x": {
          "field": "d", "type": "temporal",
          "scale": {"domain": [{"year": 2008, "month": 10, "date": 9}, {"year": 2027, "month": 1, "date": 1}], "nice": false},
          "axis": {
            "title": null, "format": "%Y",
            "values": [{"year":2009},{"year":2010},{"year":2011},{"year":2012},{"year":2013},{"year":2014},{"year":2015},{"year":2016},{"year":2017},{"year":2018},{"year":2019},{"year":2020},{"year":2021},{"year":2022},{"year":2023},{"year":2024},{"year":2025},{"year":2026},{"year":2027}],
            "labelFontSize": 22, "labelPadding": 14, "labelFlush": false, "labelOverlap": false
          }
        },
        "y": {
          "field": "p", "type": "quantitative",
          "scale": {"type": "log", "domain": [0.000309, 407800], "nice": false},
          "axis": {
            "title": "USD", "titleFontSize": 23, "titleFontWeight": "normal", "titleX": -81, "titleY": 493, "titleAngle": 270, "titleAlign": "center", "titleBaseline": "middle",
            "values": [0.001, 0.01, 0.1, 1, 10, 100, 1000, 10000, 100000],
            "format": ",.2f", "labelFontSize": 20.5, "labelPadding": 10, "labelOverlap": false
          }
        },
        "color": {
          "field": "c", "type": "quantitative",
          "scale": {
            "domain": [-0.6, 50, 100, 150, 200, 250, 300, 340, 400, 450, 500.6],
            "range": ["#0000ff", "#1f50c8", "#128a8a", "#00c050", "#00ff00", "#66ff1a", "#ccff33", "#ffff22", "#ffa51f", "#ff6612", "#ff1a1a"],
            "interpolate": "rgb"
          },
          "legend": {
            "orient": "none", "legendX": 1729, "legendY": 16, "direction": "vertical",
            "gradientLength": 952, "gradientThickness": 19, "gradientStrokeWidth": 0,
            "values": [0, 100, 200, 300, 400, 500],
            "labelFontSize": 22, "labelColor": "#ffffff", "labelOffset": 7,
            "title": null, "padding": 0,
            "encode": {
              "gradient": {"update": {"opacity": {"value": 1}}}
            }
          }
        }
      }
    },
    {
      "data": {"values": [{"d1": "2009-09-15", "d2": "2012-07-05", "p1": 50600, "p2": 137700}]},
      "mark": {"type": "rect", "fill": "#000000", "stroke": "#c8c8c8", "strokeWidth": 1.5},
      "encoding": {
        "x": {"field": "d1", "type": "temporal"},
        "x2": {"field": "d2"},
        "y": {"field": "p1", "type": "quantitative"},
        "y2": {"field": "p2"}
      }
    },
    {
      "data": {"values": [{"d": "2011-02-09", "p": 83400, "t": "Charts by: @BitboBTC"}]},
      "mark": {"type": "text", "fontSize": 24, "color": "#ffffff", "align": "center", "baseline": "middle", "font": "Roboto"},
      "encoding": {
        "x": {"field": "d", "type": "temporal"},
        "y": {"field": "p", "type": "quantitative"},
        "text": {"field": "t"}
      }
    },
    {
      "data": {"values": [{"d": "2018-01-20", "p": 0.00159, "t": "BiTBO"}]},
      "mark": {"type": "text", "fontSize": 30, "color": "#ffffff", "align": "center", "baseline": "middle", "font": "DejaVu Sans", "fontWeight": "bold"},
      "encoding": {
        "x": {"field": "d", "type": "temporal"},
        "y": {"field": "p", "type": "quantitative"},
        "text": {"field": "t"}
      }
    },
    {
      "data": {"values": [{"d": "2017-04-10", "p": 0.00159, "t": "B"}]},
      "mark": {"type": "text", "fontSize": 29, "color": "#b57d3e", "align": "center", "baseline": "middle", "font": "DejaVu Sans", "fontWeight": "bold", "angle": 350},
      "encoding": {
        "x": {"field": "d", "type": "temporal"},
        "y": {"field": "p", "type": "quantitative"},
        "text": {"field": "t"}
      }
    }
  ]
}
